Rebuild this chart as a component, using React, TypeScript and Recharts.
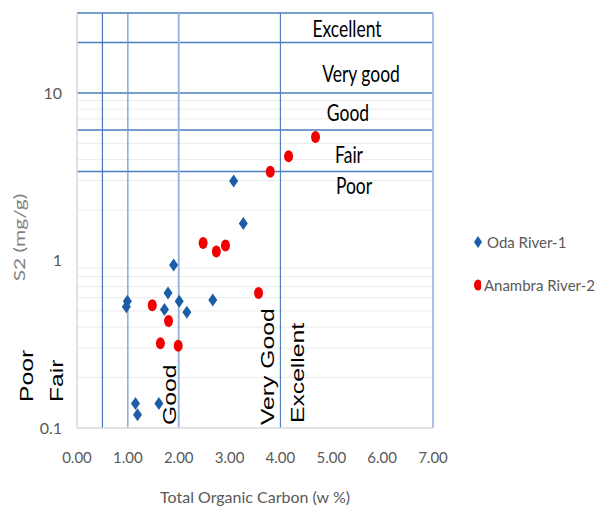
import { ScatterChart, Scatter, XAxis, YAxis, ReferenceLine, Legend } from 'recharts'

// Total organic carbon (w %) and S2 (mg/g)
const odaToc = [3.08, 3.27, 1.9, 0.99, 0.97, 1.79, 1.72, 2.01, 2.16, 2.67, 1.15, 1.19, 1.61]
const odaS2 = [2.98, 1.66, 0.94, 0.57, 0.53, 0.64, 0.51, 0.57, 0.49, 0.58, 0.14, 0.12, 0.14]
const anambraToc = [4.69, 4.16, 3.8, 2.48, 2.74, 2.92, 3.57, 1.48, 1.8, 1.64, 1.99]
const anambraS2 = [5.46, 4.19, 3.38, 1.27, 1.13, 1.23, 0.64, 0.54, 0.435, 0.32, 0.31]

const seriesNames = ['Oda River-1', 'Anambra River-2']
const xTicks = [0, 1, 2, 3, 4, 5, 6, 7]
const yTicks = [0.1, 1, 10]
const minorS2 = [0.2, 0.3, 0.4, 0.5, 0.6, 0.7, 0.8, 0.9, 2, 3, 4, 5, 7, 8, 9]

const oda = odaToc.map((x, i) => ({ x, y: odaS2[i] }))
const anambra = anambraToc.map((x, i) => ({ x, y: anambraS2[i] }))

const LATO = 'Lato, "Open Sans", sans-serif'
const ARIAL = '"Liberation Sans", Arial, sans-serif'
const BLUE_LINE = '#4a7dbf'
const BLUE_DOT = '#1b5da6'
const RED_DOT = '#f00000'

const HLabel = ({ x, y, text }: { x: number; y: number; text: string }) => (
  <text
    x={0}
    y={0}
    transform={`translate(${x},${y}) scale(1,1.35)`}
    textAnchor="middle"
    fontFamily={LATO}
    fontSize={17.5}
    fill="#000"
  >
    {text}
  </text>
)

const VLabel = ({ x, y, text }: { x: number; y: number; text: string }) => (
  <text
    x={0}
    y={0}
    transform={`translate(${x},${y}) rotate(-90) scale(1.3,1)`}
    textAnchor="start"
    fontFamily={ARIAL}
    fontSize={19}
    fill="#000"
  >
    {text}
  </text>
)

const Diamond = (props: any) => {
  const { cx, cy } = props
  return (
    <path
      d={`M${cx},${cy - 6.5} L${cx + 4.5},${cy} L${cx},${cy + 6.5} L${cx - 4.5},${cy} Z`}
      fill={BLUE_DOT}
    />
  )
}

const Dot = (props: any) => {
  const { cx, cy } = props
  return <ellipse cx={cx} cy={cy} rx={4.5} ry={6} fill={RED_DOT} />
}

const renderLegend = (props: any) => {
  const items = [...(props.payload || [])].sort(
    (a: any, b: any) => seriesNames.indexOf(a.value) - seriesNames.indexOf(b.value)
  )
  return (
    <div style={{ fontFamily: LATO, fontSize: 15, color: '#595959', whiteSpace: 'nowrap' }}>
      {items.map((entry: any) => (
        <div
          key={entry.value}
          style={{ display: 'flex', alignItems: 'center', height: 20, marginBottom: 23 }}
        >
          <svg width={12} height={14} style={{ marginRight: 3 }}>
            {entry.type === 'diamond' ? (
              <path d="M6,1 L10,7 L6,13 L2,7 Z" fill={BLUE_DOT} />
            ) : (
              <ellipse cx={6} cy={7} rx={4} ry={5.5} fill={RED_DOT} />
            )}
          </svg>
          <span>{entry.value}</span>
        </div>
      ))}
    </div>
  )
}

export default function App() {
  return (
    <div style={{ position: 'absolute', left: 0, top: 0, background: '#fff' }}>
      <ScatterChart width={595} height={511} margin={{ top: 13, right: 162, bottom: 0, left: 0 }}>
        <XAxis
          type="number"
          dataKey="x"
          domain={[0, 7]}
          ticks={xTicks}
          tickFormatter={(v: number) => v.toFixed(2)}
          height={83}
          tickLine={false}
          tickMargin={18}
          axisLine={{ stroke: '#d9d9d9', strokeWidth: 1.5 }}
          tick={{ fill: '#595959', fontSize: 15, fontFamily: LATO }}
          label={(p: any) => (
            <text
              x={p.viewBox.x + p.viewBox.width / 2}
              y={p.viewBox.y + 75}
              textAnchor="middle"
              fontFamily={LATO}
              fontSize={16}
              fill="#595959"
            >
              Total Organic Carbon (w %)
            </text>
          )}
        />
        <YAxis
          type="number"
          dataKey="y"
          scale="log"
          domain={[0.1, 30]}
          allowDataOverflow
          ticks={yTicks}
          tickFormatter={(v: number) => String(v)}
          width={77}
          tickLine={false}
          tickMargin={9}
          axisLine={{ stroke: '#d9d9d9', strokeWidth: 1.5 }}
          tick={{ fill: '#595959', fontSize: 16, fontFamily: LATO }}
          label={(p: any) => (
            <text
              x={0}
              y={0}
              transform={`translate(${p.viewBox.x + 25},${p.viewBox.y + p.viewBox.height / 2 + 17}) rotate(-90) scale(1.4,1)`}
              textAnchor="middle"
              fontFamily={LATO}
              fontSize={15}
              fill="#7f7f7f"
            >
              S2 (mg/g)
            </text>
          )}
        />

        {minorS2.map((v) => (
          <ReferenceLine key={`m${v}`} y={v} stroke="#ebebeb" strokeWidth={1} />
        ))}

        <ReferenceLine y={30} stroke={BLUE_LINE} strokeWidth={1.5} />
        <ReferenceLine
          y={20}
          stroke={BLUE_LINE}
          strokeWidth={1.5}
          label={(p: any) => <HLabel x={p.viewBox.x + 270} y={p.viewBox.y - 6} text="Excellent" />}
        />
        <ReferenceLine
          y={10}
          stroke={BLUE_LINE}
          strokeWidth={1.5}
          label={(p: any) => <HLabel x={p.viewBox.x + 284} y={p.viewBox.y - 11} text="Very good" />}
        />
        <ReferenceLine
          y={6}
          stroke={BLUE_LINE}
          strokeWidth={1.5}
          label={(p: any) => <HLabel x={p.viewBox.x + 271} y={p.viewBox.y - 9} text="Good" />}
        />
        <ReferenceLine
          y={3.4}
          stroke={BLUE_LINE}
          strokeWidth={1.5}
          label={(p: any) => (
            <g>
              <HLabel x={p.viewBox.x + 272} y={p.viewBox.y - 8} text="Fair" />
              <HLabel x={p.viewBox.x + 277} y={p.viewBox.y + 23} text="Poor" />
            </g>
          )}
        />

        <ReferenceLine
          x={0.5}
          stroke="#4573b5"
          strokeWidth={1.2}
          label={(p: any) => (
            <VLabel x={p.viewBox.x - 69} y={p.viewBox.y + p.viewBox.height - 26} text="Poor" />
          )}
        />
        <ReferenceLine
          x={1}
          stroke="#6f95cc"
          strokeWidth={1.2}
          label={(p: any) => (
            <VLabel x={p.viewBox.x - 65} y={p.viewBox.y + p.viewBox.height - 26} text="Fair" />
          )}
        />
        <ReferenceLine
          x={2}
          stroke="#9ab6de"
          strokeWidth={2}
          label={(p: any) => (
            <VLabel x={p.viewBox.x - 3} y={p.viewBox.y + p.viewBox.height - 3} text="Good" />
          )}
        />
        <ReferenceLine
          x={4}
          stroke="#4f7fbf"
          strokeWidth={1.2}
          label={(p: any) => (
            <g>
              <VLabel x={p.viewBox.x - 6} y={p.viewBox.y + p.viewBox.height - 3} text="Very Good" />
              <VLabel x={p.viewBox.x + 24} y={p.viewBox.y + p.viewBox.height - 5} text="Excellent" />
            </g>
          )}
        />
        <ReferenceLine x={7} stroke="#a9c3e6" strokeWidth={2} />

        <Scatter
          name={seriesNames[0]}
          data={oda}
          fill={BLUE_DOT}
          legendType="diamond"
          shape={Diamond}
          isAnimationActive={false}
        />
        <Scatter
          name={seriesNames[1]}
          data={anambra}
          fill={RED_DOT}
          legendType="circle"
          shape={Dot}
          isAnimationActive={false}
        />

        <Legend
          layout="vertical"
          align="center"
          verticalAlign="middle"
          content={renderLegend}
          wrapperStyle={{ left: 472, top: 232, width: 123 }}
        />
      </ScatterChart>
    </div>
  )
}
